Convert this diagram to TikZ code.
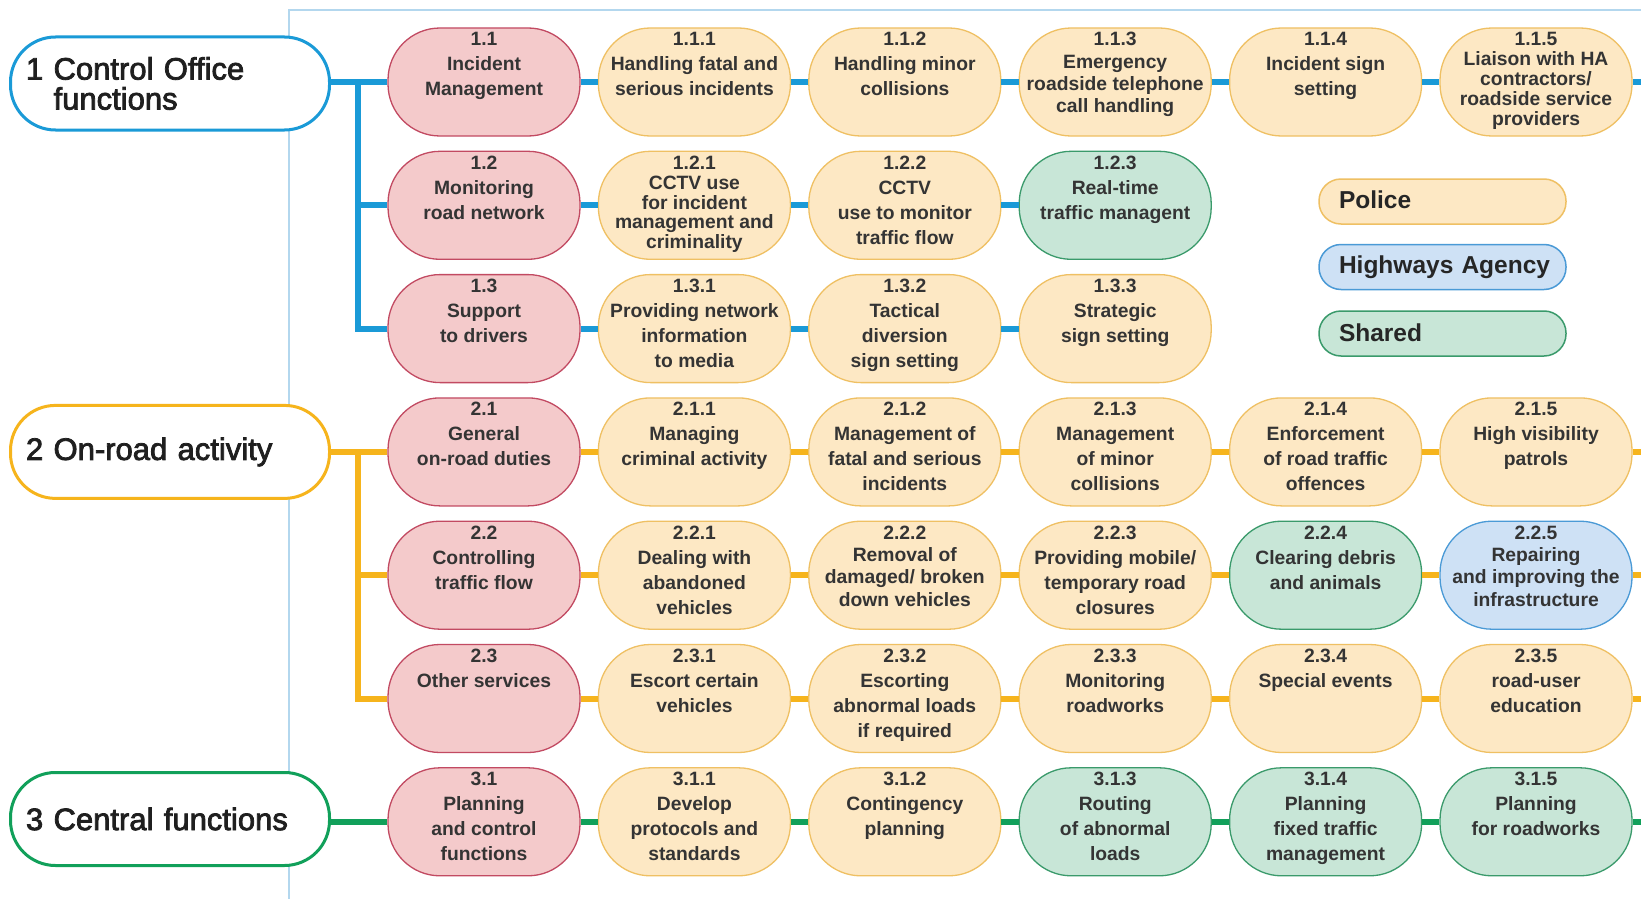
\documentclass[tikz,border=0pt]{standalone}
\usepackage{fontspec}
\setmainfont{Liberation Sans}
\newfontfamily\tfont{Liberation Sans}[FakeBold=2.5]
\definecolor{pkF}{HTML}{F4CACB}
\definecolor{pkD}{HTML}{C24A62}
\definecolor{poF}{HTML}{FDE8C4}
\definecolor{poD}{HTML}{EFC063}
\definecolor{shF}{HTML}{C8E6D7}
\definecolor{shD}{HTML}{3A9A6B}
\definecolor{haF}{HTML}{CEE1F5}
\definecolor{haD}{HTML}{4A9AD6}
\definecolor{blL}{HTML}{1A9AD7}
\definecolor{orL}{HTML}{F6B41C}
\definecolor{grL}{HTML}{11A05A}
\definecolor{frm}{HTML}{B3D7EE}
\definecolor{txc}{HTML}{343434}
\newcommand\bub[5]{%
  \node[#3] (#1) at (#2) {};
  \node[txt] (#1t) at ([yshift=-3.4pt]#1.north) {\parbox[t]{188pt}{\centering\fontsize{19.3}{#4}\selectfont\rule{0pt}{15pt}#5}};
}
\begin{document}
\begin{tikzpicture}[x=1pt,y=-1pt,
  bub/.style={rectangle, rounded corners=52pt, minimum width=192pt, minimum height=108pt, line width=1.3pt, inner sep=0pt},
  pk/.style={bub, fill=pkF, draw=pkD},
  po/.style={bub, fill=poF, draw=poD},
  shr/.style={bub, fill=shF, draw=shD},
  ha/.style={bub, fill=haF, draw=haD},
  txt/.style={anchor=north, inner sep=0pt, text=txc, font=\bfseries},
  ttl/.style={rectangle, rounded corners=45pt, minimum width=319pt, minimum height=93pt, text width=288pt, inner xsep=15.5pt, align=left, line width=3pt, fill=white, text=black!88, font=\tfont\fontsize{31}{30}\selectfont},
  leg/.style={rectangle, rounded corners=22pt, minimum width=247pt, minimum height=45pt, text width=239pt, inner xsep=4pt, align=left, line width=1.5pt, text=black!85, font=\bfseries\fontsize{24.5}{28}\selectfont},
  bl/.style={draw=blL, line width=6pt},
  ol/.style={draw=orL, line width=6pt},
  gl/.style={draw=grL, line width=6pt},
  frame/.style={draw=frm, line width=1.2pt}
]
\useasboundingbox (0,0) rectangle (1641,899);
\fill[white] (0,0) rectangle (1641,899);
\draw[frame] (289,899) -- (289,10) -- (1641,10);

% titles
\node[ttl, draw=blL] (t1) at (170,83.5) {1 Control Office\\\hphantom{1 }functions};
\node[ttl, draw=orL] (t2) at (170,451.9) {2 On-road activity};
\node[ttl, draw=grL] (t3) at (170,819) {3 Central functions};

% row 1.1
\bub{n11}{484,82}{pk}{25}{1.1\\Incident\\Management}
\bub{n111}{694.4,82}{po}{25}{1.1.1\\Handling fatal and\\serious incidents}
\bub{n112}{904.8,82}{po}{25}{1.1.2\\Handling minor\\collisions}
\bub{n113}{1115.2,82}{po}{22.3}{1.1.3\\Emergency\\roadside telephone\\call handling}
\bub{n114}{1325.6,82}{po}{25}{1.1.4\\Incident sign\\setting}
\bub{n115}{1536,82}{po}{19.9}{1.1.5\\Liaison with HA\\contractors/\\roadside service\\providers}
% row 1.2
\bub{n12}{484,205.3}{pk}{25}{1.2\\Monitoring\\road network}
\bub{n121}{694.4,205.3}{po}{19.9}{1.2.1\\CCTV use\\for incident\\management and\\criminality}
\bub{n122}{904.8,205.3}{po}{25}{1.2.2\\CCTV\\use to monitor\\traffic flow}
\bub{n123}{1115.2,205.3}{shr}{25}{1.2.3\\Real-time\\traffic managent}
% row 1.3
\bub{n13}{484,328.6}{pk}{25}{1.3\\Support\\to drivers}
\bub{n131}{694.4,328.6}{po}{25}{1.3.1\\Providing network\\information\\to media}
\bub{n132}{904.8,328.6}{po}{25}{1.3.2\\Tactical\\diversion\\sign setting}
\bub{n133}{1115.2,328.6}{po}{25}{1.3.3\\Strategic\\sign setting}
% row 2.1
\bub{n21}{484,451.9}{pk}{25}{2.1\\General\\on-road duties}
\bub{n211}{694.4,451.9}{po}{25}{2.1.1\\Managing\\criminal activity}
\bub{n212}{904.8,451.9}{po}{25}{2.1.2\\Management of\\fatal and serious\\incidents}
\bub{n213}{1115.2,451.9}{po}{25}{2.1.3\\Management\\of minor\\collisions}
\bub{n214}{1325.6,451.9}{po}{25}{2.1.4\\Enforcement\\of road traffic\\offences}
\bub{n215}{1536,451.9}{po}{25}{2.1.5\\High visibility\\patrols}
% row 2.2
\bub{n22}{484,575.2}{pk}{25}{2.2\\Controlling\\traffic flow}
\bub{n221}{694.4,575.2}{po}{25}{2.2.1\\Dealing with\\abandoned\\vehicles}
\bub{n222}{904.8,575.2}{po}{22.3}{2.2.2\\Removal of\\damaged/ broken\\down vehicles}
\bub{n223}{1115.2,575.2}{po}{25}{2.2.3\\Providing mobile/\\temporary road\\closures}
\bub{n224}{1325.6,575.2}{shr}{25}{2.2.4\\Clearing debris\\and animals}
\bub{n225}{1536,575.2}{ha}{22.3}{2.2.5\\Repairing\\and improving the\\infrastructure}
% row 2.3
\bub{n23}{484,698.5}{pk}{25}{2.3\\Other services}
\bub{n231}{694.4,698.5}{po}{25}{2.3.1\\Escort certain\\vehicles}
\bub{n232}{904.8,698.5}{po}{25}{2.3.2\\Escorting\\abnormal loads\\if required}
\bub{n233}{1115.2,698.5}{po}{25}{2.3.3\\Monitoring\\roadworks}
\bub{n234}{1325.6,698.5}{po}{25}{2.3.4\\Special events}
\bub{n235}{1536,698.5}{po}{25}{2.3.5\\road-user\\education}
% row 3.1
\bub{n31}{484,821.8}{pk}{25}{3.1\\Planning\\and control\\functions}
\bub{n311}{694.4,821.8}{po}{25}{3.1.1\\Develop\\protocols and\\standards}
\bub{n312}{904.8,821.8}{po}{25}{3.1.2\\Contingency\\planning}
\bub{n313}{1115.2,821.8}{shr}{25}{3.1.3\\Routing\\of abnormal\\loads}
\bub{n314}{1325.6,821.8}{shr}{25}{3.1.4\\Planning\\fixed traffic\\management}
\bub{n315}{1536,821.8}{shr}{25}{3.1.5\\Planning\\for roadworks}

% legend
\node[leg, fill=poF, draw=poD] (lp) at (1442.5,201.5) {\hspace*{16pt}\raisebox{3pt}{Police}};
\node[leg, fill=haF, draw=haD] (lh) at (1442.5,267) {\hspace*{16pt}\raisebox{1.5pt}{Highways Agency}};
\node[leg, fill=shF, draw=shD] (ls) at (1442.5,333.5) {\hspace*{16pt}\raisebox{2.5pt}{Shared}};

% coordinates
\coordinate (bus1) at (358,82);
\coordinate (bus2) at (358,451.9);
\coordinate (e1) at (1641,82);
\coordinate (e4) at (1641,451.9);
\coordinate (e5) at (1641,575.2);
\coordinate (e6) at (1641,698.5);
\coordinate (e7) at (1641,821.8);

% blue connectors
\draw[bl] (t1.east |- n11) -- (n11.west);
\draw[bl] (bus1) |- (n12.west);
\draw[bl] (bus1) |- (n13.west);
\draw[bl] (n11.east) -- (n111.west) (n111.east) -- (n112.west) (n112.east) -- (n113.west) (n113.east) -- (n114.west) (n114.east) -- (n115.west) (n115.east) -- (e1);
\draw[bl] (n12.east) -- (n121.west) (n121.east) -- (n122.west) (n122.east) -- (n123.west);
\draw[bl] (n13.east) -- (n131.west) (n131.east) -- (n132.west) (n132.east) -- (n133.west);
% orange connectors
\draw[ol] (t2.east) -- (n21.west);
\draw[ol] (bus2) |- (n22.west);
\draw[ol] (bus2) |- (n23.west);
\draw[ol] (n21.east) -- (n211.west) (n211.east) -- (n212.west) (n212.east) -- (n213.west) (n213.east) -- (n214.west) (n214.east) -- (n215.west) (n215.east) -- (e4);
\draw[ol] (n22.east) -- (n221.west) (n221.east) -- (n222.west) (n222.east) -- (n223.west) (n223.east) -- (n224.west) (n224.east) -- (n225.west) (n225.east) -- (e5);
\draw[ol] (n23.east) -- (n231.west) (n231.east) -- (n232.west) (n232.east) -- (n233.west) (n233.east) -- (n234.west) (n234.east) -- (n235.west) (n235.east) -- (e6);
% green connectors
\draw[gl] (t3.east |- n31) -- (n31.west);
\draw[gl] (n31.east) -- (n311.west) (n311.east) -- (n312.west) (n312.east) -- (n313.west) (n313.east) -- (n314.west) (n314.east) -- (n315.west) (n315.east) -- (e7);
\end{tikzpicture}
\end{document}
